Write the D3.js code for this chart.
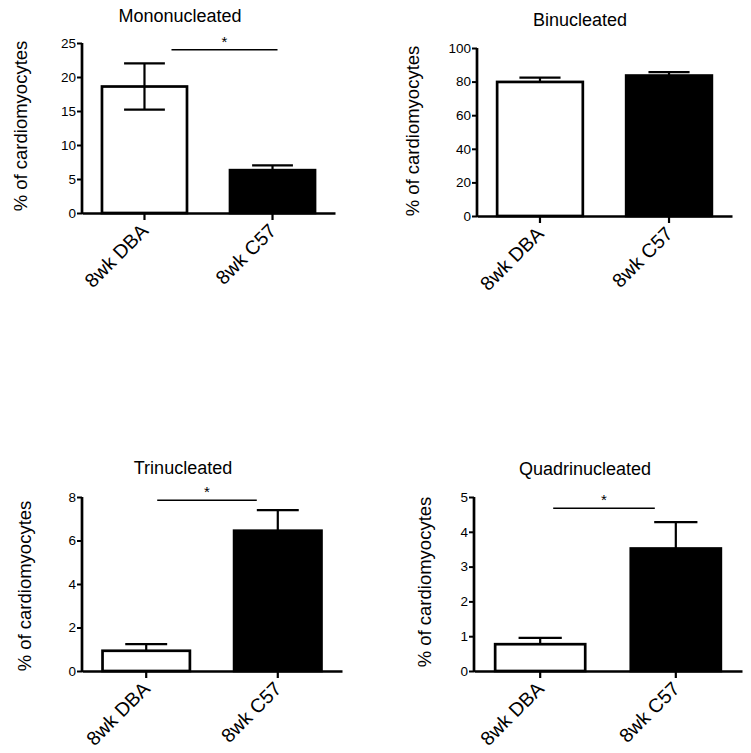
<!DOCTYPE html>
<html>
<head>
<meta charset="utf-8">
<script src="https://cdn.jsdelivr.net/npm/d3@7"></script>
<style>
  body { margin: 0; background: #fff; }
  text { font-family: "Liberation Sans", Arial, sans-serif; fill: #000; }
</style>
</head>
<body>
<div id="chart"></div>
<script>
// data
var categories = ["8wk DBA", "8wk C57"];
var titles = ["Mononucleated", "Binucleated", "Trinucleated", "Quadrinucleated"];
var yLabel = "% of cardiomyocytes";

var monoMean = [18.6, 6.3];
var monoErrUp = [3.4, 0.7];
var monoErrDown = [3.4, 0];
var biMean = [79.8, 83.6];
var biErrUp = [2.6, 2.0];
var biErrDown = [0, 0];
var triMean = [0.93, 6.45];
var triErrUp = [0.31, 0.95];
var triErrDown = [0, 0];
var quadMean = [0.77, 3.52];
var quadErrUp = [0.18, 0.76];
var quadErrDown = [0, 0];

var yMax = [25, 100, 8, 5];
var yStep = [5, 20, 2, 1];
var sigValue = [24, null, 7.85, 4.68]; // height of the "*" bracket, in data units

var means = [monoMean, biMean, triMean, quadMean];
var errsUp = [monoErrUp, biErrUp, triErrUp, quadErrUp];
var errsDown = [monoErrDown, biErrDown, triErrDown, quadErrDown];

// layout of each panel (pixels)
var panels = [
  { x0: 82,  x1: 335, yTop: 43,  yBot: 213, titleX: 180, titleY: 22,  labX: 27,  labY: 126, sig: [27, 5] },
  { x0: 477, x1: 732, yTop: 48,  yBot: 216, titleX: 580, titleY: 26,  labX: 419, labY: 131, sig: null },
  { x0: 82,  x1: 342, yTop: 497, yBot: 671, titleX: 183, titleY: 474, labX: 31,  labY: 586, sig: [11, -21] },
  { x0: 474, x1: 742, yTop: 497, yBot: 671, titleX: 585, titleY: 475, labX: 431, labY: 582, sig: [13, -21] }
];

var svg = d3.select("#chart").append("svg")
    .attr("width", 751)
    .attr("height", 753);

panels.forEach(function(p, i) {
  var g = svg.append("g");

  var x = d3.scaleBand()
      .domain(categories)
      .range([p.x0, p.x1])
      .paddingInner(0.336)
      .paddingOuter(0.156);

  var y = d3.scaleLinear()
      .domain([0, yMax[i]])
      .range([p.yBot, p.yTop]);

  var rows = categories.map(function(c, j) {
    return { cat: c, mean: means[i][j], up: errsUp[i][j], down: errsDown[i][j], j: j };
  });

  // upper error arms go behind the bars
  rows.forEach(function(d) {
    var cx = x(d.cat) + x.bandwidth() / 2;
    var capW = x.bandwidth() * 0.24;
    var top = d.mean + d.up;
    g.append("line").attr("x1", cx).attr("x2", cx)
        .attr("y1", y(top)).attr("y2", y(d.mean))
        .attr("stroke", "#000").attr("stroke-width", 2.2);
    g.append("line").attr("x1", cx - capW).attr("x2", cx + capW)
        .attr("y1", y(top)).attr("y2", y(top))
        .attr("stroke", "#000").attr("stroke-width", 2.2);
  });

  g.selectAll("rect.bar")
    .data(rows)
    .enter().append("rect")
      .attr("class", "bar")
      .attr("x", function(d) { return x(d.cat); })
      .attr("width", x.bandwidth())
      .attr("y", function(d) { return y(d.mean); })
      .attr("height", function(d) { return y(0) - y(d.mean); })
      .attr("fill", function(d) { return d.j === 0 ? "#fff" : "#000"; })
      .attr("stroke", "#000")
      .attr("stroke-width", 2.7);

  // lower arms drawn over the white bar
  rows.forEach(function(d) {
    if (!d.down) return;
    var cx = x(d.cat) + x.bandwidth() / 2;
    var capW = x.bandwidth() * 0.24;
    var bot = d.mean - d.down;
    g.append("line").attr("x1", cx).attr("x2", cx)
        .attr("y1", y(d.mean)).attr("y2", y(bot))
        .attr("stroke", "#000").attr("stroke-width", 2.2);
    g.append("line").attr("x1", cx - capW).attr("x2", cx + capW)
        .attr("y1", y(bot)).attr("y2", y(bot))
        .attr("stroke", "#000").attr("stroke-width", 2.2);
  });

  // y axis
  var yAxis = d3.axisLeft(y)
      .tickValues(d3.range(0, yMax[i] + yStep[i] / 2, yStep[i]))
      .tickSize(5)
      .tickPadding(1)
      .tickFormat(d3.format("d"));
  var ya = g.append("g")
      .attr("transform", "translate(" + p.x0 + ",0)")
      .call(yAxis);
  ya.select(".domain").attr("stroke-width", 2.7).attr("d", "M0," + p.yTop + "V" + (p.yBot + 1));
  ya.selectAll(".tick line").attr("stroke-width", 2);
  ya.selectAll(".tick text").style("font-size", "13.5px");

  // x axis
  var xAxis = d3.axisBottom(x).tickSize(7).tickSizeOuter(0).tickFormat("");
  var xa = g.append("g")
      .attr("transform", "translate(0," + p.yBot + ")")
      .call(xAxis);
  xa.select(".domain").attr("stroke-width", 2.7);
  xa.selectAll(".tick line").attr("stroke-width", 2.2);

  g.selectAll("text.cat")
    .data(categories)
    .enter().append("text")
      .attr("class", "cat")
      .attr("text-anchor", "end")
      .attr("transform", function(c) {
        return "translate(" + (x(c) + x.bandwidth() / 2 + 5) + "," + (p.yBot + 19) + ") rotate(-45)";
      })
      .style("font-size", "19.5px")
      .text(function(c) { return c; });

  // title
  g.append("text")
      .attr("x", p.titleX).attr("y", p.titleY)
      .attr("text-anchor", "middle")
      .style("font-size", "18px")
      .text(titles[i]);

  // y label
  g.append("text")
      .attr("text-anchor", "middle")
      .attr("transform", "translate(" + p.labX + "," + p.labY + ") rotate(-90)")
      .style("font-size", "18.5px")
      .text(yLabel);

  // significance bracket
  if (sigValue[i] !== null) {
    var xs = x(categories[0]) + x.bandwidth() / 2 + p.sig[0];
    var xe = x(categories[1]) + x.bandwidth() / 2 + p.sig[1];
    var sy = y(sigValue[i]);
    g.append("line").attr("x1", xs).attr("x2", xe).attr("y1", sy).attr("y2", sy)
        .attr("stroke", "#000").attr("stroke-width", 1.5);
    g.append("text")
        .attr("x", (xs + xe) / 2).attr("y", sy - 3)
        .attr("text-anchor", "middle")
        .style("font-size", "15px")
        .text("*");
  }
});
</script>
</body>
</html>
